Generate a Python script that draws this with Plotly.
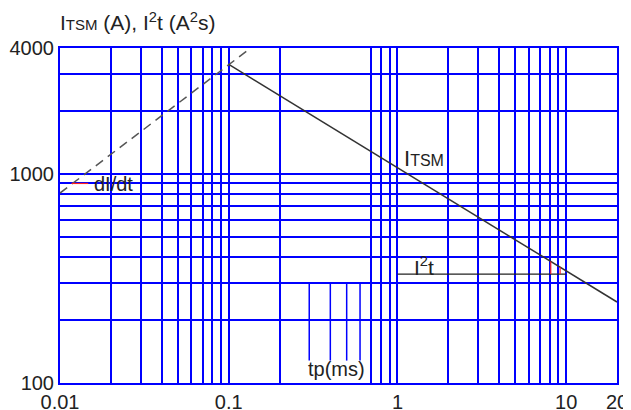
import plotly.graph_objects as go

# ITSM surge current vs pulse width (log-log)
itsm_t = [0.1, 20]
itsm_a = [3340, 244]

# dI/dt limit (dashed)
didt_t = [0.01, 0.135]
didt_a = [810, 4000]

# I2t level
i2t_t = [1, 10]
i2t_v = [332, 332]

# red construction marks
mark1_t = [8.1, 8.1]
mark1_a = [332, 381]
mark2_t = [9.2, 9.2]
mark2_a = [332, 358]
lead_t = [0.0117, 0.0147]
lead_a = [900, 900]

# grid / ticks
x_grid = [0.01, 0.02, 0.03, 0.04, 0.05, 0.06, 0.07, 0.08, 0.09,
          0.1, 0.2, 0.7, 0.8, 0.9,
          1, 2, 3, 4, 5, 6, 7, 8, 9, 10, 20]
x_labels = {0.01: "0.01", 0.1: "0.1", 1: "1", 10: "10", 20: "20"}
x_part = [0.3, 0.4, 0.5, 0.6]      # short grid lines above the tp(ms) label
x_part_span = [300, 128]
y_grid = [100, 200, 300, 400, 500, 600, 700, 800, 900, 1000, 2000, 3000, 4000]
y_labels = {100: "100", 1000: "1000", 4000: "4000"}

BLUE = "#0000ff"
FONT = "Arial, Liberation Sans, sans-serif"
TXT = "#222222"

fig = go.Figure()

for xv in x_part:
    fig.add_trace(go.Scatter(x=[xv, xv], y=x_part_span, mode="lines",
                             line=dict(color=BLUE, width=1.5), hoverinfo="skip"))

fig.add_trace(go.Scatter(x=didt_t, y=didt_a, mode="lines",
                         line=dict(color="#555555", width=1.5, dash="9px,6px")))
fig.add_trace(go.Scatter(x=itsm_t, y=itsm_a, mode="lines",
                         line=dict(color="#333333", width=1.5)))
fig.add_trace(go.Scatter(x=i2t_t, y=i2t_v, mode="lines",
                         line=dict(color="#222222", width=1.3)))
for xs, ys in [(mark1_t, mark1_a), (mark2_t, mark2_a), (lead_t, lead_a)]:
    fig.add_trace(go.Scatter(x=xs, y=ys, mode="lines",
                             line=dict(color="#ff2020", width=1.2)))

fig.update_xaxes(type="log", range=[-2, 1.30103], automargin=False,
                 tickvals=x_grid, ticktext=[x_labels.get(v, "") for v in x_grid],
                 showgrid=True, gridcolor=BLUE, gridwidth=1.5,
                 showline=True, linecolor=BLUE, linewidth=2, mirror=True,
                 ticks="", zeroline=False,
                 tickfont=dict(family=FONT, size=20, color=TXT))
fig.update_yaxes(type="log", range=[2, 3.60206], automargin=False,
                 tickvals=y_grid, ticktext=[y_labels.get(v, "") for v in y_grid],
                 showgrid=True, gridcolor=BLUE, gridwidth=1.5,
                 showline=True, linecolor=BLUE, linewidth=2, mirror=True,
                 ticks="", zeroline=False, ticklabelstandoff=0,
                 tickfont=dict(family=FONT, size=20, color=TXT))

fig.add_annotation(text="I<span style='font-size:16px'>TSM</span>",
                   x=0.029, y=3.072, xref="x", yref="y", xanchor="left",
                   showarrow=False, font=dict(family=FONT, size=22, color=TXT))
fig.add_annotation(text="I<sup>2</sup>t", x=0.086, y=2.56, xref="x", yref="y",
                   xanchor="left", showarrow=False,
                   font=dict(family=FONT, size=21, color=TXT))
fig.add_annotation(text="dI/dt", x=-1.812, y=2.952, xref="x", yref="y",
                   xanchor="left", showarrow=False,
                   font=dict(family=FONT, size=20, color=TXT))
fig.add_annotation(text="tp(ms)", x=-0.363, y=2.068, xref="x", yref="y",
                   showarrow=False, font=dict(family=FONT, size=20, color=TXT))

# page body adds an 8px offset, so the figure is drawn 8px smaller
fig.update_layout(
    width=623, height=402,
    margin=dict(l=52, r=14, t=40, b=27),
    plot_bgcolor="white", paper_bgcolor="white",
    showlegend=False,
    title=dict(text="I<span style='font-size:15px'>TSM</span> (A), I<sup>2</sup>t (A<sup>2</sup>s)",
               x=52 / 623, xanchor="left", xref="container",
               y=1 - 15 / 402, yanchor="middle", yref="container",
               font=dict(family=FONT, size=21, color=TXT)),
)

fig.write_html("out.html")
